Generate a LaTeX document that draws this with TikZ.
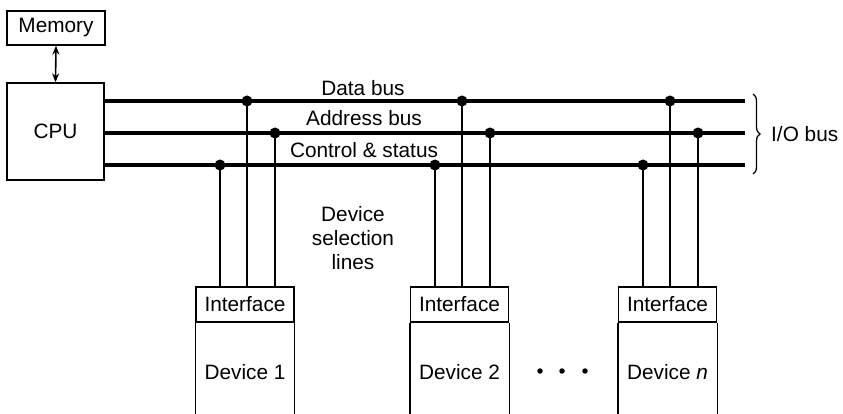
\documentclass[tikz,border=0pt]{standalone}
\usepackage{fontspec}
\setmainfont{Liberation Sans}
\usetikzlibrary{decorations.pathreplacing,arrows.meta}
\begin{document}
\begin{tikzpicture}[x=1pt,y=-1pt,
  every node/.style={font=\fontsize{20.8}{24}\selectfont, inner sep=0pt},
  box/.style={draw, line width=1.3pt, minimum width=98pt},
  busline/.style={line width=3.2pt},
  tap/.style={line width=1.4pt},
  dotm/.style={circle, fill, minimum size=11pt, inner sep=0pt},
  lbl/.style={align=center}]
\useasboundingbox (0,0) rectangle (843,414);
% Memory and CPU
\node[box, minimum height=34pt] (mem) at (56,28) {Memory};
\node[box, minimum width=97pt, minimum height=97pt] (cpu) at (55.5,131.5) {CPU};
\draw[line width=1.6pt, {Stealth[length=9pt,width=7pt]}-{Stealth[length=9pt,width=7pt]}] (mem.south) -- (cpu.north);
% bus ends
\coordinate (dE) at (745,101);
\coordinate (aE) at (745,133);
\coordinate (cE) at (745,165);
\draw[busline] (cpu.east |- dE) -- (dE);
\draw[busline] (cpu.east |- aE) -- (aE);
\draw[busline] (cpu.east |- cE) -- (cE);
% labels
\node (ldata) at (363,88) {Data bus};
\node (laddr) at (364,118) {Address bus};
\node (lctrl) at (364,150) {Control \& status};
\node[lbl] (lsel) at (353,238) {Device\\selection\\lines};
% brace
\coordinate (b1) at (753,94);
\coordinate (b2) at (753,174);
\draw[line width=1.3pt, decorate, decoration={brace, amplitude=7pt}] (b1) -- (b2);
\node[anchor=west] (iob) at (771,134) {I/O bus};
% devices
\foreach \n/\cx/\lab in {1/245/{Device 1}, 2/459.5/{Device 2}, 3/667.5/{Device \textit{n}}} {
  \node[box, minimum height=35pt] (if\n) at (\cx,304.5) {Interface};
  \draw[line width=1.3pt] (if\n.south west) -- ++(0,92);
  \draw[line width=1.3pt] (if\n.south east) -- ++(0,92);
  \node (dev\n) at (\cx,372) {\lab};
}
% taps
\foreach \n/\xc/\xd/\xa in {1/220/247/275, 2/435/462/490, 3/643/670/698} {
  \node[dotm] (c\n) at (\xc,165) {};
  \node[dotm] (d\n) at (\xd,101) {};
  \node[dotm] (a\n) at (\xa,133) {};
  \draw[tap] (c\n.center) -- (c\n.center |- if\n.north);
  \draw[tap] (d\n.center) -- (d\n.center |- if\n.north);
  \draw[tap] (a\n.center) -- (a\n.center |- if\n.north);
}
% ellipsis dots
\node[circle, fill, minimum size=5.5pt] (e1) at (540,371) {};
\node[circle, fill, minimum size=5.5pt] (e2) at (562,371) {};
\node[circle, fill, minimum size=5.5pt] (e3) at (585,371) {};
\end{tikzpicture}
\end{document}
